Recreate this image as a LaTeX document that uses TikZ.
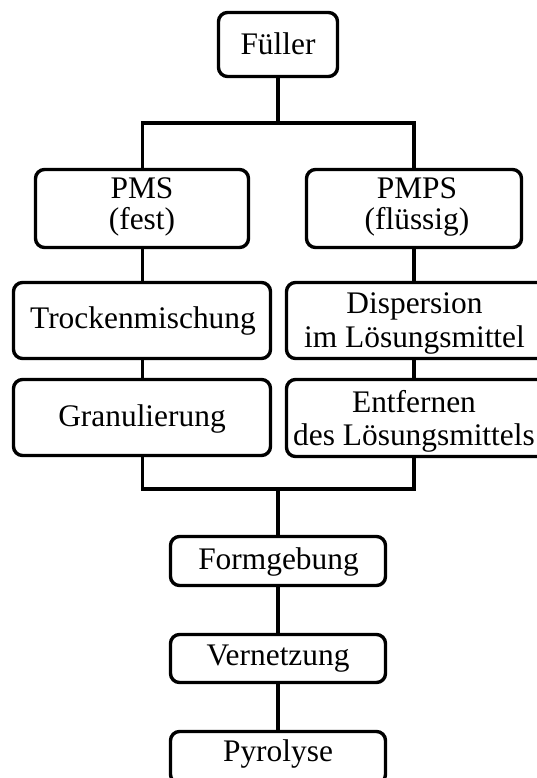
\documentclass[tikz,border=0pt]{standalone}
\usepackage{fontspec}
\setmainfont{Liberation Serif}
\begin{document}
\begin{tikzpicture}[x=1pt,y=-1pt,
  box/.style={draw=black, line width=3.4pt, rounded corners=9pt, inner sep=0pt, fill=white},
  txt/.style={inner sep=0pt, align=center, font=\fontsize{31.4}{#1}\selectfont},
  txt/.default=31,
  conn/.style={draw=black, line width=3.3pt}]
\useasboundingbox (0,0) rectangle (537,778);
\clip (0,0) rectangle (537,778);
% boxes
\node[box, minimum width=119pt, minimum height=64pt] (fuel) at (278,44.5) {};
\node[txt, anchor=base] (fuelT) at (278,55) {Füller};
\node[box, minimum width=213pt, minimum height=78pt] (pms) at (142,208.5) {};
\node[txt=31] (pmsT) at (142,206.7) {PMS\\(fest)};
\node[box, minimum width=215pt, minimum height=78pt] (pmps) at (414,208.5) {};
\node[txt=31] (pmpsT) at (417,207.3) {PMPS\\(flüssig)};
\node[box, minimum width=257pt, minimum height=76pt] (trock) at (142,320.5) {};
\node[txt, anchor=base] (trockT) at (143,328.3) {Trockenmischung};
\node[box, minimum width=272pt, minimum height=76pt] (disp) at (422.5,320.5) {};
\node[txt=34] (dispT) at (414.5,323.7) {Dispersion\\im Lösungsmittel};
\node[box, minimum width=257pt, minimum height=76pt] (gran) at (142,417.5) {};
\node[txt, anchor=base] (granT) at (142,426) {Granulierung};
\node[box, minimum width=272pt, minimum height=77pt] (entf) at (422.5,418) {};
\node[txt=33.3] (entfT) at (414,421) {Entfernen\\des Lösungsmittels};
\node[box, minimum width=215pt, minimum height=49pt] (form) at (278,561) {};
\node[txt, anchor=base] (formT) at (278.5,569.3) {Formgebung};
\node[box, minimum width=215pt, minimum height=48pt] (vern) at (278,658.5) {};
\node[txt, anchor=base] (vernT) at (278,665) {Vernetzung};
\node[box, minimum width=215pt, minimum height=52pt] (pyro) at (278,757.5) {};
\node[txt, anchor=base] (pyroT) at (278,761.7) {Pyrolyse};
% junction coordinates
\coordinate (jtl) at (142.5,123);
\coordinate (jtr) at (414,123);
\coordinate (jbl) at (142.5,489);
\coordinate (jbr) at (414,489);
% connectors
\draw[conn] (fuel.south) -- (fuel.south |- jtl);
\draw[conn] (pms.north -| jtl) -- (jtl) -- (jtr) -- (pmps.north -| jtr);
\draw[conn] (pms.south -| jtl) -- (trock.north -| jtl);
\draw[conn] (trock.south -| jtl) -- (gran.north -| jtl);
\draw[conn] (gran.south -| jbl) -- (jbl) -- (jbr) -- (entf.south -| jbr);
\draw[conn] (pmps.south -| jtr) -- (disp.north -| jtr);
\draw[conn] (disp.south -| jtr) -- (entf.north -| jtr);
\draw[conn] (form.north |- jbl) -- (form.north);
\draw[conn] (form.south) -- (vern.north);
\draw[conn] (vern.south) -- (pyro.north);
\end{tikzpicture}
\end{document}
